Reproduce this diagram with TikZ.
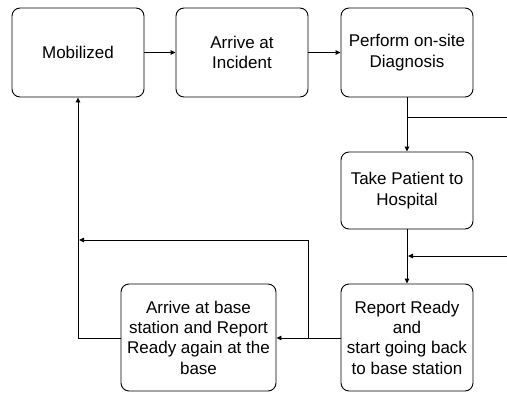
\documentclass[tikz,border=0pt]{standalone}
\usepackage{fontspec}
\setmainfont{Liberation Sans}
\usetikzlibrary{arrows.meta}
\begin{document}
\begin{tikzpicture}[x=1pt,y=-1pt,
  box/.style={draw=black,line width=0.9pt,rounded corners=8pt,align=center,
    font=\fontsize{17}{20.3}\selectfont,inner sep=2pt,minimum width=132pt},
  conn/.style={draw=black,line width=0.9pt},
  arr/.style={conn,-{Triangle[length=5pt,width=4.5pt]}}]
\useasboundingbox (0,0) rectangle (507,392);
\node[box,minimum height=89pt] (mob) at (78,52.5) {Mobilized};
\node[box,minimum height=89pt] (arr) at (242,52.5) {Arrive at\\Incident};
\node[box,minimum height=89pt] (perf) at (407,52.5) {Perform on-site\\Diagnosis};
\node[box,minimum height=77pt] (take) at (407,190.5) {Take Patient to\\Hospital};
\node[box,minimum height=107pt] (rep) at (407,337.5) {Report Ready\\and\\start going back\\to base station};
\node[box,minimum height=107pt,minimum width=155pt] (base) at (198.5,337.5) {Arrive at base\\station and Report\\Ready again at the\\base};
\coordinate (j1) at (407,117);
\coordinate (e1) at (507,117);
\coordinate (e2) at (507,256);
\coordinate (j2) at (408,256);
\coordinate (j3) at (308,338);
\coordinate (j4) at (79,240);
\coordinate (c1) at (78,338);
\draw[arr] (mob.east) -- (arr.west);
\draw[arr] (arr.east) -- (perf.west);
\draw[arr] (perf.south) -- (take.north);
\draw[conn] (j1) -- (e1);
\draw[arr] (take.south) -- (rep.north);
\draw[arr] (e2) -- (j2);
\draw[arr] (rep.west |- j3) -- (base.east |- j3);
\draw[arr] (j3) |- (j4);
\draw[arr] (base.west |- c1) -- (c1) -- (mob.south);
\end{tikzpicture}
\end{document}
